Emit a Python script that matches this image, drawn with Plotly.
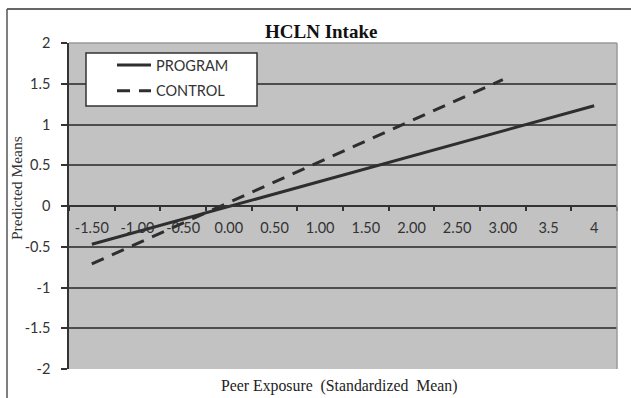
import plotly.graph_objects as go

# ---- data ----
categories = ["-1.50", "-1.00", "-0.50", "0.00", "0.50", "1.00",
              "1.50", "2.00", "2.50", "3.00", "3.5", "4"]
program = [-0.47, -0.315, -0.16, -0.005, 0.15, 0.30, 0.46, 0.61, 0.77, 0.92, 1.08, 1.23]
control = [-0.71, -0.46, -0.21, 0.04, 0.29, 0.54, 0.79, 1.04, 1.30, 1.55, None, None]
y_ticks = [-2, -1.5, -1, -0.5, 0, 0.5, 1, 1.5, 2]
y_tick_labels = ["-2", "-1.5", "-1", "-0.5", "0", "0.5", "1", "1.5", "2"]

W, H = 631, 398
L, R, T, B = 69, 14, 43, 29
pw, ph = W - L - R, H - T - B


def px(x):
    return (x - L) / pw


def py(y):
    return (H - B - y) / ph


LINE = "#2e2e2e"
fig = go.Figure()
fig.add_trace(go.Scatter(x=categories, y=program, mode="lines", name="PROGRAM",
                         line=dict(color=LINE, width=3), legendgroup="a"))
fig.add_trace(go.Scatter(x=categories, y=control, mode="lines", name="CONTROL",
                         line=dict(color=LINE, width=3, dash="13px,9px"), legendgroup="b"))

shapes = [
    # outer frame (top and left edges visible)
    dict(type="line", xref="paper", yref="paper", x0=px(7), x1=px(W + 5), y0=py(9), y1=py(9),
         line=dict(color="#333333", width=1.5)),
    dict(type="line", xref="paper", yref="paper", x0=px(7), x1=px(7), y0=py(9), y1=py(H + 5),
         line=dict(color="#555555", width=1.5)),
    # plot area light border (top and right)
    dict(type="line", xref="paper", yref="paper", x0=0, x1=1, y0=1, y1=1,
         line=dict(color="#9a9a9a", width=1.5), layer="above"),
    dict(type="line", xref="paper", yref="paper", x0=1, x1=1, y0=0, y1=1,
         line=dict(color="#9a9a9a", width=1.5), layer="above"),
    # legend box
    dict(type="rect", xref="paper", yref="paper", x0=px(86), x1=px(257), y0=py(106), y1=py(53),
         fillcolor="white", line=dict(color="#333333", width=1.5), layer="above"),
]

annotations = [
    dict(text="<b>HCLN Intake</b>", xref="paper", yref="paper", x=px(321), y=py(32),
         showarrow=False, font=dict(family="Liberation Serif", size=19, color="#111111"),
         xanchor="center", yanchor="middle"),
    dict(text="Predicted Means", xref="paper", yref="paper", x=px(16), y=py(188),
         showarrow=False, textangle=-90, font=dict(family="Liberation Serif", size=15.5, color="#333333"),
         xanchor="center", yanchor="middle"),
    dict(text="Peer Exposure\u00a0 (Standardized\u00a0 Mean)", xref="paper", yref="paper",
         x=px(339), y=py(386), showarrow=False,
         font=dict(family="Liberation Serif", size=15.8, color="#222222"),
         xanchor="center", yanchor="middle"),
]

fig.update_layout(
    width=W, height=H,
    margin=dict(l=L, r=R, t=T, b=B),
    paper_bgcolor="white",
    plot_bgcolor="#c2c2c2",
    shapes=shapes,
    annotations=annotations,
    showlegend=True,
    legend=dict(x=px(112), y=py(49), xanchor="left", yanchor="top",
                bgcolor="rgba(0,0,0,0)", borderwidth=0, tracegroupgap=4,
                itemwidth=34,
                font=dict(family="Lato", size=14.5, color="#333333")),
    xaxis=dict(type="category", categoryorder="array", categoryarray=categories,
               range=[-0.5, len(categories) - 0.5],
               anchor="free", position=0.5, tickson="boundaries",
               ticks="outside", ticklen=4, tickcolor="#333333", tickwidth=1.5,
               showline=True, linecolor="#333333", linewidth=1.5,
               showgrid=False, ticklabelstandoff=9,
               tickfont=dict(family="Lato", size=14.5, color="#333333")),
    yaxis=dict(range=[-2, 2], tickvals=y_ticks, ticktext=y_tick_labels,
               showgrid=True, gridcolor="#4d4d4d", gridwidth=1.5,
               zeroline=False, showline=True, linecolor="#333333", linewidth=1.5,
               ticks="outside", ticklen=6, tickcolor="#333333", tickwidth=1.5,
               ticklabelstandoff=8,
               tickfont=dict(family="Lato", size=14.5, color="#333333")),
)

fig.write_html("out.html", config={"displayModeBar": False},
               post_script="document.body.style.margin='0';")
